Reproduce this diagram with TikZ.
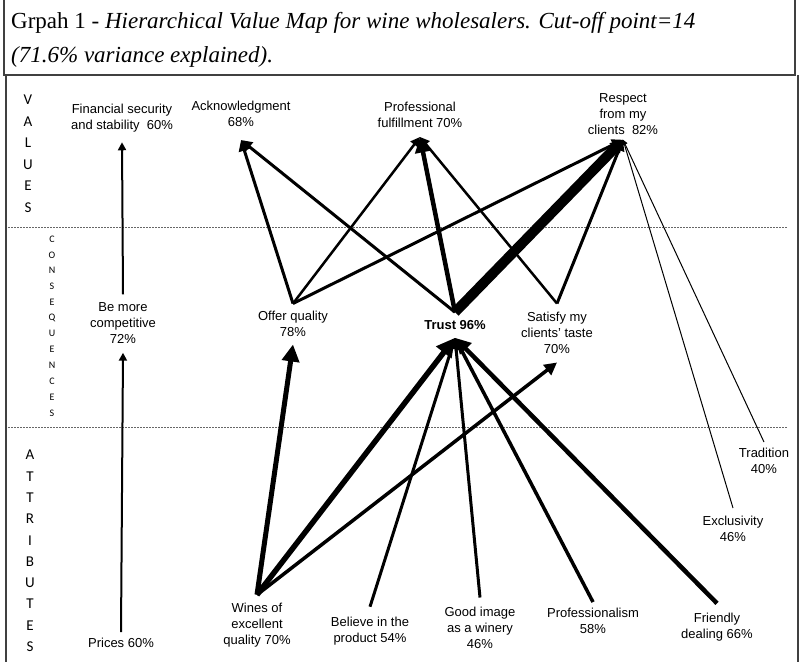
\documentclass[tikz,border=0pt]{standalone}
\usepackage{fontspec}
\setmainfont{Liberation Sans}
\newfontfamily\titlefont{Liberation Serif}
\newfontfamily\sidefont{Carlito}
\usetikzlibrary{arrows.meta}

\begin{document}
\begin{tikzpicture}[x=1pt,y=-1pt,
  lbl/.style={align=center, inner xsep=2pt, inner ysep=8pt, font=\fontsize{13}{16}\selectfont},
  side/.style={inner sep=0pt, font=\sidefont\fontsize{15}{15}\selectfont},
  sidesmall/.style={inner sep=0pt, font=\sidefont\fontsize{10}{10}\selectfont},
  link/.style={line width=#1, -{Triangle[length=2pt 3, width=2pt 3]}},
  frame/.style={draw=black!75, line width=1.5pt},
  sep/.style={draw=black!60, line width=0.8pt, dash pattern=on 2pt off 1pt}]
  \useasboundingbox (0,0) rectangle (801,662);
  % frames and level separators
  \draw[frame] (4,0) -- (4,75) -- (795,75) -- (795,0);
  \draw[frame] (6,75) -- (6,662);
  \draw[frame] (798,75) -- (798,662);
  \draw[sep] (8,227) -- (787,227);
  \draw[sep] (8,427) -- (787,427);
  % title
  \node[anchor=base west, inner sep=0pt, font=\titlefont\fontsize{23}{23}\selectfont] (title1) at (11,28)
    {Grpah 1 - \textit{Hierarchical Value Map for wine wholesalers. Cut-off point=14}};
  \node[anchor=base west, inner sep=0pt, font=\titlefont\fontsize{23}{23}\selectfont] (title2) at (11,62)
    {\textit{(71.6\% variance explained).}};
  % level names
  \foreach \c [count=\i from 0] in {V,A,L,U,E,S}
    \node[side] (values\i) at (28,100+21.5*\i) {\c};
  \foreach \c [count=\i from 0] in {C,O,N,S,E,Q,U,E,N,C,E,S}
    \node[sidesmall] (cons\i) at (52,239+15.8*\i) {\c};
  \foreach \c [count=\i from 0] in {A,T,T,R,I,B,U,T,E,S}
    \node[side] (attr\i) at (30,455+21.3*\i) {\c};
  % values
  \node[lbl, inner ysep=10pt] (fin) at (122,118) {Financial security\\and stability~ 60\%};
  \node[lbl, inner ysep=13pt] (ack) at (241,114) {Acknowledgment\\68\%};
  \node[lbl, inner ysep=9pt] (prof) at (420,115) {Professional\\fulfillment 70\%};
  \node[lbl, inner ysep=5pt] (resp) at (623,114) {Respect\\from my\\clients~ 82\%};
  % consequences
  \node[lbl, inner ysep=8.5pt] (comp) at (123,323.5) {Be more\\competitive\\72\%};
  \node[lbl, inner ysep=7.5pt] (offer) at (293,324) {Offer quality\\78\%};
  \node[lbl, font=\fontsize{13}{16}\selectfont\bfseries] (trust) at (455,325) {Trust 96\%};
  \node[lbl, inner ysep=8.5pt] (taste) at (557,333) {Satisfy my\\clients' taste\\70\%};
  % attributes
  \node[lbl] (wines) at (257,625) {Wines of\\excellent\\quality 70\%};
  \node[lbl, inner ysep=10pt] (belief) at (370,631) {Believe in the\\product 54\%};
  \node[lbl, inner ysep=9pt] (image) at (480,627.5) {Good image\\as a winery\\46\%};
  \node[lbl, inner ysep=6pt] (profism) at (593,621) {Professionalism\\58\%};
  \node[lbl, inner ysep=10pt] (friendly) at (717,627.6) {Friendly\\dealing 66\%};
  \node[lbl] (excl) at (733,529) {Exclusivity\\46\%};
  \node[lbl, inner ysep=6pt] (trad) at (764,461) {Tradition\\40\%};
  \node[lbl, inner ysep=6pt] (prices) at (121,643) {Prices 60\%};
  % attributes -> consequences
  \draw[link=2pt] (prices.north) -- (comp.south);
  \draw[link=5pt] (wines.north) -- (offer.south);
  \draw[link=5.5pt] (wines.north) -- (trust.south);
  \draw[link=3.5pt] (wines.north) -- (taste.south);
  \draw[link=3pt] (belief.north) -- (trust.south);
  \draw[link=3pt] (image.north) -- (trust.south);
  \draw[link=3.5pt] (profism.north) -- (trust.south);
  \draw[link=4.5pt] (friendly.north) -- (trust.south);
  \draw[link=1pt] (excl.north) -- (resp.south);
  \draw[link=1pt] (trad.north) -- (resp.south);
  % consequences -> values
  \draw[link=2pt] (comp.north) -- (fin.south);
  \draw[link=3pt] (offer.north) -- (ack.south);
  \draw[link=2.5pt] (offer.north) -- (prof.south);
  \draw[link=3pt] (offer.north) -- (resp.south);
  \draw[link=3pt] (trust.north) -- (ack.south);
  \draw[link=4.5pt] (trust.north) -- (prof.south);
  \draw[line width=10pt, -{Triangle[length=12pt, width=14pt]}] (trust.north) -- (resp.south);
  \draw[link=2.5pt] (taste.north) -- (prof.south);
  \draw[link=3pt] (taste.north) -- (resp.south);
\end{tikzpicture}
\end{document}
